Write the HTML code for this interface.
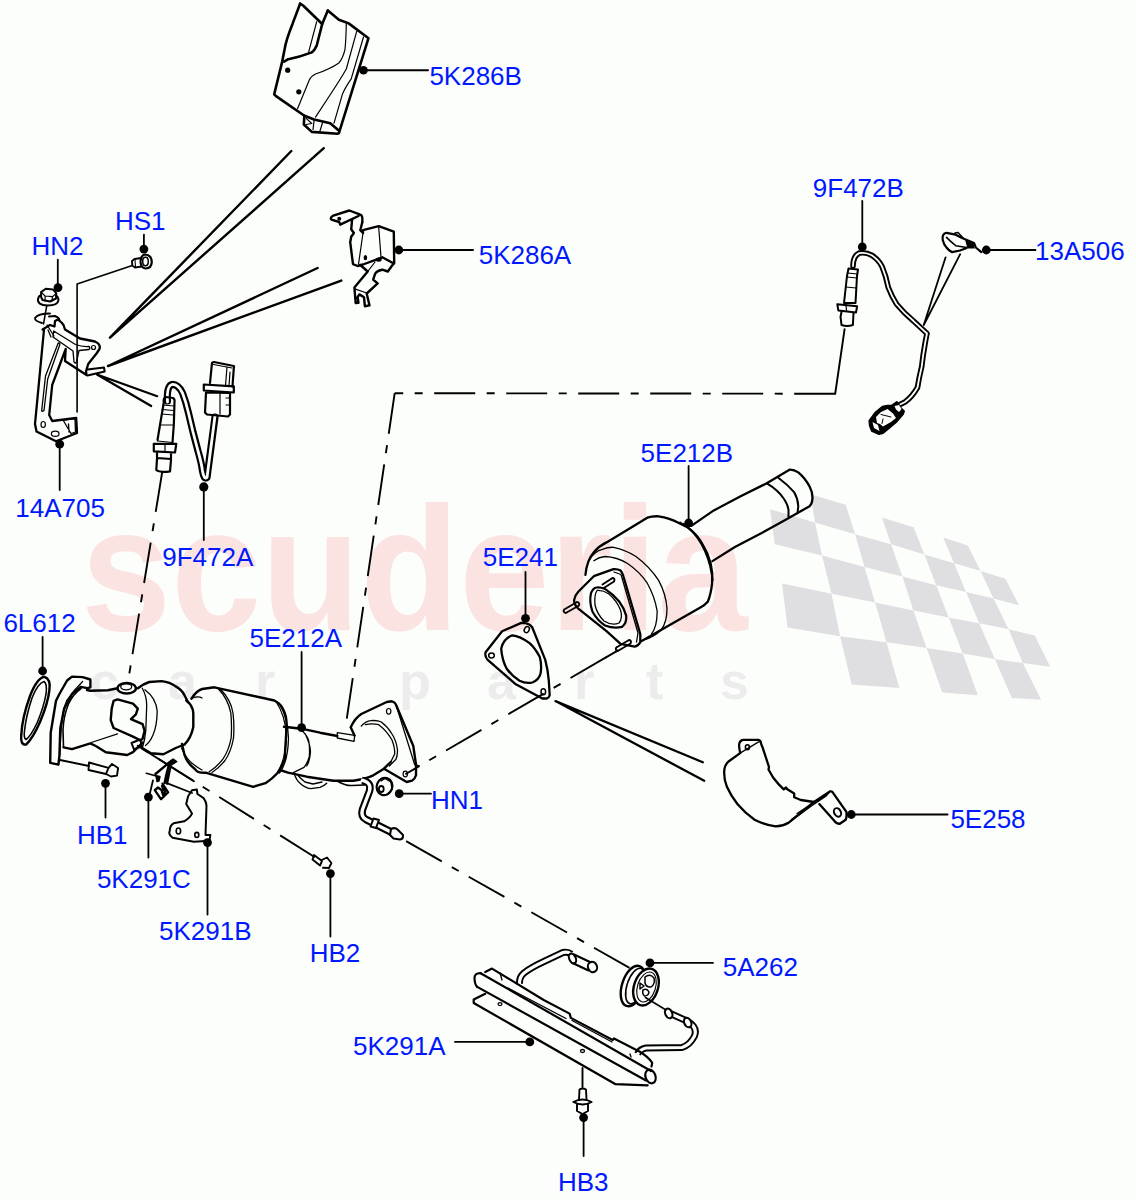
<!DOCTYPE html>
<html><head><meta charset="utf-8"><style>
html,body{margin:0;padding:0;background:#fcfefb;}
svg{display:block;}
</style></head><body>
<svg width="1136" height="1200" viewBox="0 0 1136 1200">
<rect width="1136" height="1200" fill="#fcfefb"/>
<g id="wm">
<text transform="translate(81 630) scale(0.921 1)" font-family="Liberation Sans" font-weight="bold" font-size="176" fill="#fbe3e2">scuderia</text>
<g font-family="Liberation Sans" font-weight="bold" font-size="52" fill="#ececec">
<text x="90" y="699">c</text><text x="168" y="699">a</text><text x="255" y="699">r</text>
<text x="399" y="699">p</text><text x="487" y="699">a</text><text x="574" y="699">r</text><text x="646" y="699">t</text><text x="720" y="699">s</text>
</g>
<path fill="#dfdfe1" d="M810.4 494.3 L845.8 504.7 L855.0 534.3 L815.0 522.5ZM881.9 517.6 L913.6 527.3 L924.4 554.6 L891.1 544.2ZM943.2 537.6 L967.8 545.5 L980.6 571.0 L954.1 563.2ZM770.1 509.3 L815.0 522.5 L822.0 555.5 L774.7 544.2ZM855.0 534.3 L891.1 544.2 L902.4 576.6 L864.5 567.1ZM924.4 554.6 L954.1 563.2 L966.0 592.1 L936.2 585.2ZM980.6 571.0 L1005.4 578.8 L1019.1 605.4 L993.5 598.5ZM822.0 555.5 L864.5 567.1 L875.1 602.5 L831.5 593.7ZM902.4 576.6 L936.2 585.2 L948.7 617.4 L913.4 610.5ZM966.0 592.1 L993.5 598.5 L1008.6 629.2 L979.2 623.2ZM782.0 583.6 L831.5 593.7 L840.1 636.2 L787.5 627.6ZM875.1 602.5 L913.4 610.5 L926.6 648.0 L886.5 642.2ZM948.7 617.4 L979.2 623.2 L994.8 659.0 L962.7 653.5ZM1008.6 629.2 L1034.7 635.6 L1050.3 666.8 L1022.8 663.1ZM840.1 636.2 L886.5 642.2 L899.3 688.1 L851.7 684.4ZM926.6 648.0 L962.7 653.5 L977.9 695.2 L942.2 692.4ZM994.8 659.0 L1022.8 663.1 L1041.1 699.8 L1011.8 698.0Z"/>
</g>
<g id="parts" fill="none" stroke="#000" stroke-linecap="round" stroke-linejoin="round">
<!-- 5K286B heat shield -->
<g stroke-width="2.6">
<path d="M300.1 3.7 L303.1 5.5 L322.2 24 L316.7 45.6 Q314.5 50.5 311.8 52.4 Q300 57 288.3 59.2 L284 61.6"/>
<path d="M300.1 3.7 L292.7 23.4 Q286 40 284.6 49.3 L282.2 61.6 L274.2 94.3 L276 96.1 L304.4 115.8 L314.2 119.5 L330.2 123.2 L338.9 130.6"/>
<path d="M327.8 10.5 L338.9 19.7 L348.7 23.4 L368.5 38.2 L338.9 133.1"/>
<path d="M327.8 10.5 L322.2 24"/>
<path d="M304.4 115.8 L303.8 124.5 L311.8 131.9 L337.6 133.7"/>
</g>
<g stroke-width="1.2">
<path d="M316.7 21.6 L308.7 51.8"/>
<path d="M346.3 23.4 Q346 40 345 49.3 Q343 58 338.9 62.9 Q330 69 315.5 74 Q311 76 309.3 80.1 L297.6 108.5"/>
<path d="M356.7 31.4 L346.3 69 Q340 80 330 95 L315.5 117.1"/>
<path d="M363.5 37 L351.2 78.9 Q345 88 342.6 93.7 L334 123.2"/>
<path d="M314.2 119.5 L313 129.5 M322.9 121.5 L319.8 131.5 M330.2 123.2 L338.5 131 M306.2 118.4 L311.8 123.5 L306 124.5"/>
</g>
<g fill="#000" stroke="none">
<circle cx="287.7" cy="70.2" r="2.6"/><circle cx="298.8" cy="91.8" r="2.6"/>
<circle cx="363.5" cy="70.2" r="4.3"/>
</g>
<path stroke-width="2" d="M363.5 70.2 H428"/>
<!-- long leader lines -->
<g stroke-width="2.4">
<path d="M291.3 151 L110 337.7 M323.8 148.2 L110 337.7"/>
<path d="M317.6 268 L108 366 M341.3 280.6 L108 366"/>
</g>
<g stroke-width="2.2">
<path d="M97 374.5 L157.2 396.2 M97 374.5 L151.2 406"/>
</g>
<!-- HS1 bolt -->
<g stroke-width="1.8">
<path d="M143.9 234.6 V249"/>
<path d="M132.3 265.6 L77.1 284 V412" stroke-width="1.6"/>
<path d="M145 254.5 Q151.5 255 151.8 262 Q151.5 268.5 145.5 268.5 Q141 268 140.5 262 Q141 255 145 254.5 Z" stroke-width="2.2"/>
<ellipse cx="145.5" cy="261.5" rx="2.8" ry="4.2" stroke-width="1.5"/>
<path d="M141.5 258 L134.5 259 L132 261 L132.3 265.5 L135 267.5 L142 266.5" stroke-width="1.9"/>
<path d="M135 259.5 L135.5 267" stroke-width="1.1"/>
</g>
<!-- HN2 nut -->
<g stroke-width="1.8">
<path d="M57.8 259.7 V287.8"/>
<path d="M38 299 Q37 305 47.5 305.5 Q58 305.5 58.5 300 Q58.5 297 56 295.5 M38 299 Q38.5 296 41 295" stroke-width="2"/>
<path d="M41.1 292.1 L45.7 288.8 L53 289.4 L56.3 293.4 L56 298.5 L50 301.5 L42.5 300 L41.1 297 Z" stroke-width="2"/>
<path d="M41.1 292.1 L45.1 296 L52.4 296.7 L56.3 293.4 M45.1 296 L45 301 M52.4 296.7 L52 301" stroke-width="1.2"/>
<path d="M46.8 305.5 L43.5 324" stroke-width="1.5"/>
<path d="M50 313.5 Q38 313.5 35 318 Q34.5 321 42 323 M49 316.5 L55 316 Q60 318 59.5 321" stroke-width="1.9"/>
</g>
<!-- 14A705 bracket -->
<g stroke-width="2.3">
<path d="M42.5 329.5 L50 325 L54.5 326.5 L55 321 L58 319.5 L61.5 322.5 L63.5 325 L65 329.5 L80 338.5 L95 341.5 Q101 344 99.5 349 L96.5 353.5 L88.2 364 L86 371.5 L86.5 375 L65 361 L65.7 349 L52.2 385 L49.2 415 L52.2 421 L76.2 418 L77 433 L56 441.2 L36.5 431.5 L35 424 L44 329.5 Z"/>
<path d="M87.5 369.5 L104 367.5 L104.7 371.5 L87.5 375.5" stroke-width="2"/>
</g>
<g stroke-width="1.3">
<path d="M58.2 343 Q60.5 343 59.7 345 L47.7 379 L44 410.5 Q42 412 41.7 410.5 L45.5 376 Z"/>
<path d="M53.7 331 L75.5 344.5 Q82 347 89 346.5 Q90.5 348.5 89 349.5 L79 350.5 L76.5 362 Q75 364 74 362 L73 351 L53 337 Z"/>
<path d="M47 325 L54 336 M48 330 L51 337"/>
<path d="M63 420 L75 418.5 L75.5 432 L71 433.5 Z M68.5 424 L69 432"/>
</g>
<g stroke-width="1.2">
<ellipse cx="43.2" cy="424.5" rx="2.2" ry="3"/>
<ellipse cx="55.2" cy="433.7" rx="3.8" ry="2.6"/>
<circle cx="93.5" cy="347.5" r="2"/>
</g>
<g fill="#000" stroke="none">
<circle cx="143.9" cy="249.1" r="4.4"/>
<circle cx="58" cy="287.6" r="4.4"/>
<circle cx="59.7" cy="444.2" r="4.4"/>
</g>
<path stroke-width="1.8" d="M59.7 444.2 V490"/>
<!-- 5K286A bracket -->
<g stroke-width="2.4">
<path d="M362.2 222.5 Q363 215 360.3 214.7 L349.3 210.5 L333.3 215.6 Q329.5 218 331.5 219.7 L339.2 222 L340.2 224.7 L358.5 216"/>
<path d="M352.1 219.7 L351.2 229.3 L353.9 233 L351.2 236.7 L350.2 242.2 L353 264.2 L357.6 266 L363 264.5 L382.3 257.3 L393.3 263.2 L394.2 263.2 L393.8 231.6 L378.7 226.1 L363 230.2 L363 233 L360.3 230.2 L362.2 222.5"/>
<path d="M393.8 263.2 L387.8 271.5 L382.3 269.7 Q376 271 375 274.2 L373.2 279.7 L377.7 283.4 L366.7 293.5 L369.5 305.4 L364.9 306.3 L364 297.2 L359.4 294.4 L357.6 297.2 L358.5 302.7 L355.7 303.1 L354.4 287.5 L367.7 271.5 L360.3 265"/>
</g>
<g stroke-width="1.2">
<path d="M363 233 L358.5 264.2 M378.7 227 L381 257.3 M382.3 257.3 L393.3 263.2 M367.7 271.5 L375 262 M354.8 288.9 L366.7 293"/>
</g>
<g fill="#000" stroke="none">
<circle cx="339.2" cy="218.8" r="2"/><ellipse cx="365.4" cy="257.7" rx="1.8" ry="2.6"/><ellipse cx="378.7" cy="259.6" rx="3" ry="2.2"/>
<circle cx="398.8" cy="250" r="4.4"/>
</g>
<path stroke-width="2" d="M398.8 250 H473"/>
<!-- 9F472A sensor -->
<g stroke-width="2.2">
<path stroke-width="7.2" d="M167.5 401 Q166.5 386 172 384.5 Q178 384 182.5 393 Q186 402 188.5 413 L193 432 L198 451 Q201.5 463 202.5 471 Q204 480 207 477.5 L215 417"/>
<path stroke="#fcfefb" stroke-width="2.8" d="M167.5 402 Q166.5 386 172 384.5 Q178 384 182.5 393 Q186 402 188.5 413 L193 432 L198 451 Q201.5 463 202.5 471 Q204 480 207 477.5 L215 416"/>
<path d="M205 412.5 L206 392.5 L230 393 L230 414.5 L228 416.5 L207 414.5 Z"/>
<path d="M203.8 384.5 L233.8 386.3 L233.8 392.5 L203.8 390.5 Z"/>
<path d="M211.9 363.8 Q212 362 214 362 L233.8 366 Q234.5 367 233.8 368 L232.5 386.3 M211.9 363.8 L210 383"/>
<path d="M163.8 402.5 Q163 398 166 397 L173 398 Q175 399 174.5 402 L173.8 425 L172.5 442.5 M160 425 L157.5 440 M163.8 402.5 L160 425"/>
<path d="M153.8 443.8 L176.3 443.8 L175 452.5 L153.8 451.3 Z M157 452 L157 458 L171 459 L171 453 M157 458.8 L156.3 470 Q160 473 170 471.3 L171 460"/>
</g>
<g stroke-width="1.2">
<path d="M162.5 405 L174 406 M162 409.5 L174 410.5 M161.5 414 L173.5 415 M160 425 L173.8 425 M157.5 441 L172.5 442.5 M165 444 L165 452"/>
<path d="M213.5 364.5 L232 368 M227 367 L225.5 385.5 M230 372 L229 386 M220 393 L220 414 M226 398 L230 398 M226 405 L230 405"/>
</g>
<g fill="#000" stroke="none"><circle cx="203.8" cy="486.9" r="4.6"/></g>
<path stroke-width="1.8" d="M203.8 486.9 V540"/>
<!-- 6L612 gasket -->
<g stroke-width="2.4">
<path d="M44.5 676.8 Q51 679 49.4 690 Q48 703 40 722 Q33 738 26.1 744.6 Q20 745 21.3 735 Q22 718 30 696 Q37 678 44.5 676.8 Z"/>
<path d="M44 681.5 Q47.5 684 46 694 Q44 706 37.5 722 Q31 736 26 739.5 Q23.5 738 24.5 731 Q26 716 32 698 Q38 683 44 681.5 Z" stroke-width="1.6"/>
</g>
<g fill="#000" stroke="none"><circle cx="42.6" cy="671" r="4.4"/></g>
<path stroke-width="1.8" d="M42.6 637 V671"/>
<!-- 5E212A converter assembly -->
<g stroke-width="2.4">
<!-- flange -->
<path d="M72 676.6 L82.6 677.1 L90.4 679.5 L90.4 687.3 L87.4 688.2 L80.7 686.8 L72 694 L64.2 708.6 L60.3 727.9 L59.4 756 L58.4 764.7 L50.2 762.8 L50.7 732.8 L56 700.8 L59.4 694 L67.1 680.5 Z"/>
<!-- neck/pipe -->
<path stroke-width="1.6" d="M81 688.5 Q73 694 68.5 704 Q63.5 716 63 730 L63.5 747.3"/>
<path d="M63.5 747.3 L72 749.2 L90.4 743.4 L96.2 746.3 L105.8 752.2 L127.2 755 L133 752.2 L142.6 742.5"/>
<path d="M87 690 L90.4 690.7 L107.8 690.2 L117.5 688.2"/>
<ellipse cx="126.7" cy="688.2" rx="9.2" ry="5.3"/>
<path d="M113.6 700.8 L117.5 699.4 L133 703.7 L137.8 708.6 L135.9 714.4 L131 719.2 L142.6 724.1 L144.6 730.8 L142.6 738.6 L140.7 740.5 L133 736.7 L113.6 728 L110.7 720.2 L111.7 708.6 Z"/>
<path d="M131.5 743 L140 739.5 L142 746 L134 749.5 Z" stroke-width="2"/>
<!-- front cone -->
<path d="M137.9 688.2 Q143 684 149.3 682 L161.6 681.1 Q170 682 175.7 686.4 Q182 690 184.5 695.2 L188 702.3"/>
<path d="M142.3 748 L151 753.3 L163.4 754.2 L175.7 748 L184.5 744.5"/>
<path d="M186.3 700.5 Q192.5 705 193.3 712.8 L193.3 726.9 Q191 738 184.5 744.5"/>
<!-- main cylinder -->
<path d="M191.5 698.7 Q196 691 202.1 689 L214.4 687.3 L274.3 700.5 Q281 704 283.1 709.3 Q287 716 286.6 726.9 L285.5 745 Q284.9 752 284.9 758.6 Q282 767 277.8 772.7 Q272 779 265.5 783.2 L253.2 786.8 L205.6 772.7 Q197 773 195.1 769.2 Q187 763 184.5 755 L182 744"/>
</g>
<g stroke-width="1.3">
<path d="M82.6 681.5 Q74 690 67 700 L64 708 Q61.5 720 60.5 740 L59.8 755"/>
<ellipse cx="126.2" cy="686.8" rx="5.5" ry="3"/>
<path d="M91.3 742.5 L117.5 733.8"/>
<path d="M142.3 688.2 Q147 697 146.7 705.8 L145.8 730.4 Q145 740 142.3 748 M144.9 689.8 Q156 698 157.2 711 Q157 726 153 735 Q150 742 145.5 745.5"/>
<path d="M218.5 689 Q228 699 230.8 712.8 Q232 725 231.2 737.5 Q229 750 223.2 758.6 Q217 767 209.2 771.8 M220.8 689.5 Q231 700 233 713 Q234.5 726 233.5 738 Q231 752 225 760.5 Q219 768 212 772.5"/>
<path d="M193 697.5 Q199 696 202 698"/>
<path d="M181.5 748 Q187 760 193 764 Q198 768 202 770"/>
<path d="M276 701.5 Q285 715 286.5 735 Q286 760 276.5 774 M279 703 Q288 718 288.5 738 Q288 762 279.5 773"/>
</g>
<g stroke-width="2.4">
<path d="M284 726.8 L301.3 728.7 L320 732.7 L337.3 736 M354.5 735.5 L350.7 727.3 Q355 718 361.3 714 L386.7 702 L392 701.3 Q395 702 396 704.7 L413.3 746 L416 764.7 L416 775.3 Q415 779 412 780.7 L406.7 782 L384 768.7"/>
<path d="M280 770 L288 772.7 L306.7 776.7 L333.3 780.7 L353.3 780.7 Q365 779 373.3 775.3 L384 768.7 L390.7 762"/>
</g>
<g stroke-width="1.3">
<path d="M337.3 732.7 L354.7 735.3 L354 741.3 L337.3 738 Z"/>
<path d="M361.3 726 Q366 721 370.7 720.7 Q377 720 381.3 722 Q388 727 392 734 Q396 740 397.3 748.7 Q398 754 396 759.3 L389.3 766"/>
<path d="M365.3 724.7 Q372 723 378.7 724.7 Q387 731 392 740 Q395 748 394.7 754 L390.7 762"/>
<path d="M301.3 730 Q307 735 308.7 740.7 Q310 748 309.3 756.7 Q307 764 304 767.3 L293.3 772.7 M305.3 734 Q310.5 745 310.5 752 Q309.5 762 306.7 766"/>
<path d="M396 704.7 L414.7 764.7 L419.3 766"/>
<path d="M294.7 775.3 Q297 781 300 783.3 Q305 788 310.7 788.7 L320 787.3 Q324 786 326.7 783.3 M298 775.5 Q301 779 305 782 L313 784 L322 782"/>
</g>
<g stroke-width="1.2"><ellipse cx="388.7" cy="711.3" rx="2.2" ry="2.8"/><ellipse cx="405.3" cy="774" rx="2.2" ry="2.8"/></g>
<g fill="#000" stroke="none"><circle cx="301.6" cy="727.6" r="4.4"/></g>
<path stroke-width="1.8" d="M301.6 652 V727.6"/>
<!-- tube to HN1 -->
<path stroke-width="7.6" stroke-linecap="butt" d="M362 780.5 Q372 782 369.5 791 L362.5 809.5 Q360.5 816.5 366 819.5 L393 833"/>
<path stroke="#fcfefb" stroke-width="3.4" stroke-linecap="butt" d="M361 780 Q372 782 369.5 791 L362.5 809.5 Q360.5 816.5 366 819.5 L393 833"/>
<path stroke-width="1.6" d="M338 781.5 Q346 786 352 785.5 L364.5 785"/>
<g stroke-width="2">
<path d="M373.5 818.5 L379 820 L376 828 L370.5 826.5 Z" fill="#fcfefb"/>
<path d="M391 829 Q395 827 397.5 829.5 L403 835 Q403.5 839 400 839.5 L393.5 838.5 L390 835 Z" fill="#fcfefb"/>
</g>
<!-- HN1 nut -->
<g stroke-width="2.2">
<ellipse cx="384.5" cy="786.5" rx="7.8" ry="8.8" transform="rotate(20 384.5 786.5)"/>
<path d="M385 778.5 L391 782 L392 789.5 L389 793 M385 778.5 L381 781" stroke-width="1.4"/>
<ellipse cx="381.3" cy="789" rx="2.4" ry="3" stroke-width="1.8"/>
</g>
<g fill="#000" stroke="none"><circle cx="399.2" cy="793.7" r="4.4"/></g>
<path stroke-width="1.8" d="M399.2 793.7 H431"/>
<!-- HB1 bolt -->
<g stroke-width="1.9">
<path d="M60 760 L89 766 M89 762.5 L108.5 767.8 L106 774 L88.5 770 Z"/>
<path d="M108.5 767.8 L112 764 L118.1 768 L117 775.6 L111 776.5 L106 774"/>
</g>
<g fill="#000" stroke="none"><circle cx="105.5" cy="783.3" r="4.4"/></g>
<path stroke-width="1.8" d="M105.5 783.3 V817.5"/>
<!-- 5E212B converter -->
<g stroke-width="2.3">
<path d="M691.3 525.9 L713.8 510.4 L740.6 496.3 L765.9 483.7 L789.9 469.6 Q794 469.5 798.3 472.4 Q805 478 809.6 486.5 Q813 493 812.4 499.2 Q812 504 809.6 506.2 L787 518.9 L761.7 533 L734.9 547 L712.4 561.1"/>
<path d="M585.4 574.8 Q587 560 593.8 552.3 Q599 546 606.5 542.4 L647.3 517.7 Q652 516 658.6 516.3 Q670 518 678.3 522.7 L686.8 526.9 Q697 534 702.3 543.8 Q708 553 710.7 563.5 Q713 573 712.1 583.2 Q711 594 707.9 601.5 Q705 605 700.8 607.2 L641.7 641"/>
<path d="M584 586 L593.8 576.2 L613.5 569.2 Q618 569 620.6 570.6 Q622.5 572.5 623.4 576.2 L640.3 634 L640.3 642.4 Q638 646 634.6 646.6 L620.6 643.8 L606.5 631.1 L578.3 608.6 Q574 605 574.1 600.1 Q575 595 578.3 591.7 Z"/>
</g>
<g stroke-width="1.3">
<path d="M680 522 Q693 530 701 544 Q709 558 711.5 575 M683.5 523.5 Q697 533 704 547 Q710.5 560 713 580"/>
<path d="M589.6 559.3 Q595 551 602.3 549.4 Q608 547 613.5 547.3 Q626 550 636 556.5 Q650 567 658.6 580.4 Q666 594 667 608.6 Q667 622 661.4 629.7 Q654 637 644.5 639.6"/>
<path d="M593.8 560.7 Q599 557 605 556.5 Q617 557 627.6 563.5 Q640 572 647.3 583.2 Q655 597 657.2 611.4 Q657 627 651.5 634"/>
<path d="M614 572 L621 574.5 L638 633 L636.5 642"/>
<path d="M767.3 483.7 Q778 490 784.2 499.2 Q788 505 788.5 510 L788.5 516.8 M778.6 478 Q788 485 794.1 492.1 Q798 499 798.3 506.2 L797.6 511.8" stroke-width="2"/>
</g>
<g stroke-width="2.2">
<path d="M591 593.1 Q593 588 596.6 587.5 Q600 587 605 588.9 Q613 594 619.2 601.5 Q624 608 626.2 615.6 Q627 623 622 626.9 Q614 629 605 625.5 Q597 620 592.4 611.4 Q589 602 591 593.1 Z"/>
</g>
<g stroke-width="1.3">
<path d="M597 590.5 Q603 590 609 594 Q617 601 620.5 610 Q623 618 619 623 Q612 626 604 621 Q597 614 595 605 Q594 595 597 590.5 Z"/>
</g>
<g stroke-width="1.9">
<path d="M564.2 609.5 L577 602 M565.8 613 L579 605.5 M564.2 609.5 Q562.5 612 565.8 613 M577 602 Q580 602.5 579 605.5"/>
<path d="M616.3 647.5 L629 640 M617.8 651 L630.5 643.5 M616.3 647.5 Q614.8 650 617.8 651 M629 640 Q632 640.5 630.5 643.5"/>
<path d="M602.5 584.5 L612.5 578 M603.8 588 L614 581.5 M612.5 578 Q615.5 578.5 614 581.5"/>
</g>
<g fill="#000" stroke="none"><circle cx="688.6" cy="523" r="4.4"/></g>
<path stroke-width="1.8" d="M688.6 466 V523"/>
<!-- 5E241 gasket -->
<g stroke-width="2.3">
<path d="M502.1 631.2 L521.3 622.9 Q526 623 528.7 624.3 Q531 625.5 532.3 627.5 L545.2 659.6 Q548 670 548.8 680.7 L549.7 695.3 Q549 698 547 698.5 L542.4 698.5 L515.8 684.3 L487.4 659.6 Q484.5 656 485.6 652.2 Z"/>
<path d="M512.2 635.3 Q503 639 501.2 648.6 Q502 660 506.7 668.7 Q512 676 519.5 680.7 Q526 684 532.3 682.5 Q539 680 540.6 673.3 Q542 665 539.7 656.8 Q535 648 529.6 643.1 Q520 636 512.2 635.3 Z"/>
</g>
<g stroke-width="1.5">
<ellipse cx="526.8" cy="629.6" rx="2.3" ry="3.2" transform="rotate(30 526.8 629.6)"/>
<ellipse cx="491.5" cy="655.5" rx="2.8" ry="2.4"/>
<ellipse cx="543.3" cy="691.7" rx="2.3" ry="3"/>
</g>
<g fill="#000" stroke="none"><circle cx="525.5" cy="618.3" r="4.4"/></g>
<path stroke-width="1.8" d="M525.5 572 V618.3"/>
<!-- 5E258 heat shield -->
<g stroke-width="2.3">
<path d="M555.5 701.1 L702.8 762.3 M555.5 701.1 L704.2 780.8"/>
<path d="M740.1 752.4 Q738.5 745 739.4 743.2 Q740.5 740 743.4 739.9 L758.6 739.9 Q760.5 740.5 760.6 741.9"/>
<path d="M740.1 753.1 L728.2 761.7 Q724 766 724.2 772.3 Q724 780 726.9 786.8 Q731 796 737.4 804 Q745 813 754.6 819.8 Q765 825 775.7 826.4 Q783 826 789 822.4 L814 802 L829.9 791.4 Q831.5 791 832.5 792.1 L846.4 811.9 Q847 817 845.7 819.8 L839.8 823.8 Q836 823.5 834.5 821.1 L819.3 804"/>
<path d="M760.6 741.9 Q761 744 762.5 747.2 L769 767 L768.5 769.5 L773.1 777.5 Q778 784 783.7 789.4 L786 787.5 L787 789 L794.2 793.4 L794.2 797.3 L800.8 800 L814 802"/>
</g>
<g stroke-width="1.3">
<path d="M740.1 753.1 L758.6 741.9 M789 822.4 L829 793 M792 819 L827 795.5 M797 813.5 L822 797"/>
<ellipse cx="837.5" cy="812.4" rx="3.3" ry="4.5" transform="rotate(-30 837.5 812.4)" stroke-width="2"/>
<ellipse cx="747.4" cy="747.2" rx="2" ry="2.4" stroke-width="1.6"/>
</g>
<g fill="#000" stroke="none"><circle cx="851.3" cy="814.5" r="4.4"/></g>
<path stroke-width="1.8" d="M851.3 814.5 H947.6"/>
<!-- 9F472B sensor -->
<path stroke-width="5.6" d="M853 266 Q853 256 859.2 253.1 Q866 252 871.7 255.2 Q879 260 882.1 266.7 Q886 276 888.3 287.5 Q892 297 896.7 304.2 Q904 313 913.3 320.8 L927 333.5 Q926 338 925 344 Q923 355 921.7 366.7 Q919 378 917.5 387.5 Q912 397 905 402 L897 406"/>
<path stroke="#fcfefb" stroke-width="1.8" d="M853 266 Q853 256 859.2 253.1 Q866 252 871.7 255.2 Q879 260 882.1 266.7 Q886 276 888.3 287.5 Q892 297 896.7 304.2 Q904 313 913.3 320.8 L927 333.5 Q926 338 925 344 Q923 355 921.7 366.7 Q919 378 917.5 387.5 Q912 397 905 402 L897 406"/>
<g stroke-width="2">
<path d="M848.5 268.5 L858 269.5 L857 276 L855.5 303 L844 303 L847 276 Z"/>
<path d="M837.3 304.2 L857.1 306.3 L856 312.5 L838.3 310.4 Z"/>
<path d="M841.5 312 L840.5 316.7 L841.5 325 Q847 327 852.9 325 L853.5 313"/>
<path fill="#000" stroke-width="1.2" d="M869 420.6 L875.3 412.2 L882.2 406.4 L887.5 405.3 L891.7 405.3 L897 401.6 L900.7 407.4 L904.4 411.1 L903.3 414.3 L897 421.7 L889.6 428 L883.2 433.3 L879 434.4 L871.6 431.2 L869.5 425.9 Z"/>
<path fill="#fcfefb" stroke="none" d="M872.5 422 L878 425 L879.5 431 L874 428 Z M876 417 L881 412 L887.5 409 L893 413.5 L896 418 L891 422 L883 426.5 L880 424 L877 423 Z M894.5 406 L899 405 L901.5 409 L899 412 L896 409.5 Z"/>
<path stroke-width="1" d="M881 414.5 L891 417 M882 423.5 L883 419"/>
</g>
<g stroke-width="1.2">
<path d="M847.5 273 L857.5 274 M847 277 L857 278 M846 287 L856 288 M846 304.5 L846.5 311"/>

</g>
<path stroke-width="1.8" d="M862.3 201 V247 M945.6 257.3 L923.75 325 M960.2 254.2 L923.75 325"/>
<!-- 13A506 clip -->
<g stroke-width="2.2">
<path d="M942.8 240.2 Q941.5 234 946.5 232.8 L955.7 234.7 L962 238 L974 242.9 L975.8 247.5 L981.3 252.1 M942.8 240.2 Q944 245 946.5 247.5 Q949 251 952 252.1 L960 250.5 L966.7 248"/>
<path d="M946.5 237.4 Q951 242 955.7 245.7 L966.7 247.5 M955 233 L958 232.5 L963.5 238.5" stroke-width="1.6"/>
<path d="M966 241 L973.5 244 L974 248 L968 248 Z" fill="#000" stroke-width="1.2"/>
</g>
<g fill="#000" stroke="none"><circle cx="862.3" cy="246.9" r="4.4"/><circle cx="986.3" cy="250" r="4.4"/></g>
<path stroke-width="1.8" d="M986.3 250 H1035.5"/>
<!-- dash-dot lines -->
<g stroke-width="1.9" stroke-linecap="butt" stroke-dasharray="41 11.5 8 11.5">
<path d="M835.2 393.75 L394.7 393.2"/>
<path d="M394.7 393.2 L346.7 719.3"/>
<path d="M162.3 471.5 L128.6 678"/>
<path d="M617.6 650.6 L405.3 774.2" stroke-dashoffset="58.5"/>
<path d="M406.1 841.2 L629.5 967.9"/>
<path d="M314.9 857.2 L137.7 745.8"/>
</g>
<path stroke-width="1.9" d="M835.2 393.75 L844.6 329.2 M617.6 650.6 L606 657.4 M137.7 745.8 L193.9 781.2"/>
<!-- 5K291A bracket, 5A262 mount, HB3 -->
<path stroke-width="7" stroke-linecap="butt" d="M519.5 984 Q519 977 524 973 Q530 968 545 961 L563 952.5 Q568 951.5 571 954 M668 1012.5 L687 1021 Q698 1027 694.5 1036 Q690 1045 682 1047.5 L646 1048 Q640 1049 637.5 1054"/>
<path stroke="#fcfefb" stroke-width="3.2" stroke-linecap="butt" d="M519.5 985 Q519 977 524 973 Q530 968 545 961 L563 952.5 Q568 951.5 571 954 M668 1012.5 L687 1021 Q698 1027 694.5 1036 Q690 1045 682 1047.5 L646 1048 Q640 1049 636.5 1056"/>
<g stroke-width="2.1">
<ellipse cx="572.5" cy="958.5" rx="3.2" ry="5.2" transform="rotate(-25 572.5 958.5)" fill="#fcfefb"/>
<path d="M574 954.5 L590 962 M572.5 963 L588.5 970.5" />
<ellipse cx="592.5" cy="967" rx="4.5" ry="5.2" transform="rotate(-25 592.5 967)" fill="#fcfefb"/>
<ellipse cx="668.7" cy="1013.4" rx="3.4" ry="5" transform="rotate(-25 668.7 1013.4)" fill="#fcfefb"/>
<ellipse cx="687.7" cy="1022.5" rx="3.4" ry="5" transform="rotate(-25 687.7 1022.5)" fill="#fcfefb"/>
</g>
<g stroke-width="2.2">
<path d="M480.6 973.2 L651 1071 M477.2 986.9 L646 1080.5"/>
<path d="M480.6 973.2 Q474 973 474.5 979 Q475 985 477.2 986.9"/>
<ellipse cx="650.5" cy="1076.5" rx="5" ry="7" transform="rotate(-20 650.5 1076.5)"/>
<path d="M485.2 972 L492 968.6 L543.7 1000 L569.6 1013.6 L570.8 1017.9 L612.7 1040 L614 1038.5 L639.8 1051.8 Q648.5 1057 652.2 1062.9 L651.5 1066.5"/>
<path d="M473.7 999.5 L485.2 993.8 M473.7 999.5 L473.7 1003 L615.6 1084.2 L647.7 1085.3"/>
</g>
<g stroke-width="1.3">
<path d="M508 988 L566 1018.5 M572 1020.5 L612 1042"/>
<ellipse cx="500" cy="1004.1" rx="2" ry="1.5"/><ellipse cx="582.5" cy="1051" rx="2" ry="1.5"/>
<path d="M500 973 L502 980 M630 1054 L631 1057"/>
</g>
<!-- 5A262 -->
<g stroke-width="2.4">
<ellipse cx="633" cy="986" rx="11" ry="21" transform="rotate(18 633 986)"/>
<ellipse cx="635.5" cy="986" rx="8.5" ry="18.5" transform="rotate(18 635.5 986)" stroke-width="1.6"/>
<ellipse cx="646" cy="987" rx="12" ry="19" transform="rotate(18 646 987)" fill="#fcfefb"/>
</g>
<g stroke-width="1.5">
<ellipse cx="646.5" cy="987" rx="9" ry="15.5" transform="rotate(18 646.5 987)" stroke-width="1.1"/>
<path d="M645 977 Q650 973 654 978 Q655.5 984 651 987 Q646 987.5 645 983 Z M643 990 Q647 988 649 992 Q648.5 996 644.5 996 Q642 994 643 990 Z M640 983 L644 986 L640 989 Z"/>
</g>
<path stroke-width="1.6" d="M645.4 997.5 L666 1010"/>
<!-- HB3 -->
<g stroke-width="1.9">
<path d="M582.5 1068 V1087"/>
<path d="M579 1100 L579.5 1089.5 Q582.5 1087.5 586 1089.5 L586.5 1100"/>
<path d="M573.3 1102 Q582.5 1097 591.6 1102 Q583 1107 573.3 1102 Z"/>
<path d="M577 1104.5 L577 1111 L582.5 1114 L588 1111 L588 1104.5"/>
</g>
<g fill="#000" stroke="none"><circle cx="650" cy="962.9" r="4.4"/><circle cx="583.6" cy="1117.6" r="4.4"/><circle cx="529.8" cy="1041.9" r="4.4"/></g>
<path stroke-width="1.8" d="M650 962.9 H713 M583.6 1117.6 V1156 M529.8 1041.9 H455"/>
<!-- 5K291C, 5K291B, HB2 -->
<g stroke-width="2">
<path d="M146.3 773.2 L159 776.8" stroke-width="1.6"/>
<path d="M168.2 762.7 L173.1 759.2 L176.6 761.6 L171 765.1 Z" fill="#000" stroke-width="1.6"/>
<path d="M155.5 774 L168.2 763.4" stroke-width="2.4"/>
<path d="M168.9 765 L166.5 774 L164.6 783.1 M170.5 766 L168.5 776 L167 783.5" stroke-width="2.4"/>
<path d="M162.5 783.8 L168.2 792.3 L161.1 799.3 L154.8 790.1 L158 787.5 L161.5 790 L163 795 L165 792 L162 786" stroke-width="2.3"/>
<path d="M156 776 L160 776.5 L159 781 L157 781.5 Z" fill="#000" stroke-width="1.4"/>
<path d="M153 780.3 L149.5 795" stroke-width="1.8"/>
<path d="M166.8 783.1 L192.1 793" stroke-width="1.8"/>
<path d="M192 790.3 L196.8 789.4 L197.5 794 L203.6 798.1 Q206.5 802 206.5 805.8 L205.5 834.9 L210.4 834.9 L209.4 840.7 L193.9 841.7 L172.6 837.8 Q168 834 169.7 831 Q170 825 173.6 823.3 L184.2 821.3 Q190 818 192 813.6 L186.2 803.9 L188.1 796.2 Z"/>
</g>
<g stroke-width="1.6"><ellipse cx="178.4" cy="831" rx="2.2" ry="3"/><ellipse cx="196.8" cy="834.9" rx="2" ry="2.5"/></g>
<g stroke-width="1.9">
<path d="M314 855 L322 861 L320 865.5 L312.5 859.5 Z"/>
<path d="M321.7 860 L327 857.5 L331.4 863 L329 868 L323 867.8"/>
</g>
<g fill="#000" stroke="none"><circle cx="148.4" cy="797.1" r="4.4"/><circle cx="207.5" cy="842.6" r="4.4"/><circle cx="330.4" cy="873.6" r="4.4"/></g>
<path stroke-width="1.8" d="M148.4 797.1 V857.5 M207.5 842.6 V914.5 M330.4 873.6 V936.5"/>

</g>
<g font-family="Liberation Sans" font-size="26" fill="#0018ff">
<text x="429.4" y="84.9">5K286B</text>
<text x="115.0" y="229.9">HS1</text>
<text x="31.5" y="255.0">HN2</text>
<text x="478.7" y="264.0">5K286A</text>
<text x="812.8" y="196.7">9F472B</text>
<text x="1035.0" y="259.7">13A506</text>
<text x="15.3" y="517.0">14A705</text>
<text x="640.6" y="461.8">5E212B</text>
<text x="162.2" y="565.8">9F472A</text>
<text x="482.8" y="566.4">5E241</text>
<text x="3.4" y="632.3">6L612</text>
<text x="249.5" y="647.2">5E212A</text>
<text x="431.0" y="808.7">HN1</text>
<text x="950.4" y="827.8">5E258</text>
<text x="77.0" y="844.0">HB1</text>
<text x="96.9" y="888.0">5K291C</text>
<text x="159.0" y="940.0">5K291B</text>
<text x="309.7" y="961.7">HB2</text>
<text x="722.8" y="976.1">5A262</text>
<text x="353.0" y="1055.3">5K291A</text>
<text x="558.0" y="1190.9">HB3</text>

</g>
</svg>
</body></html>
